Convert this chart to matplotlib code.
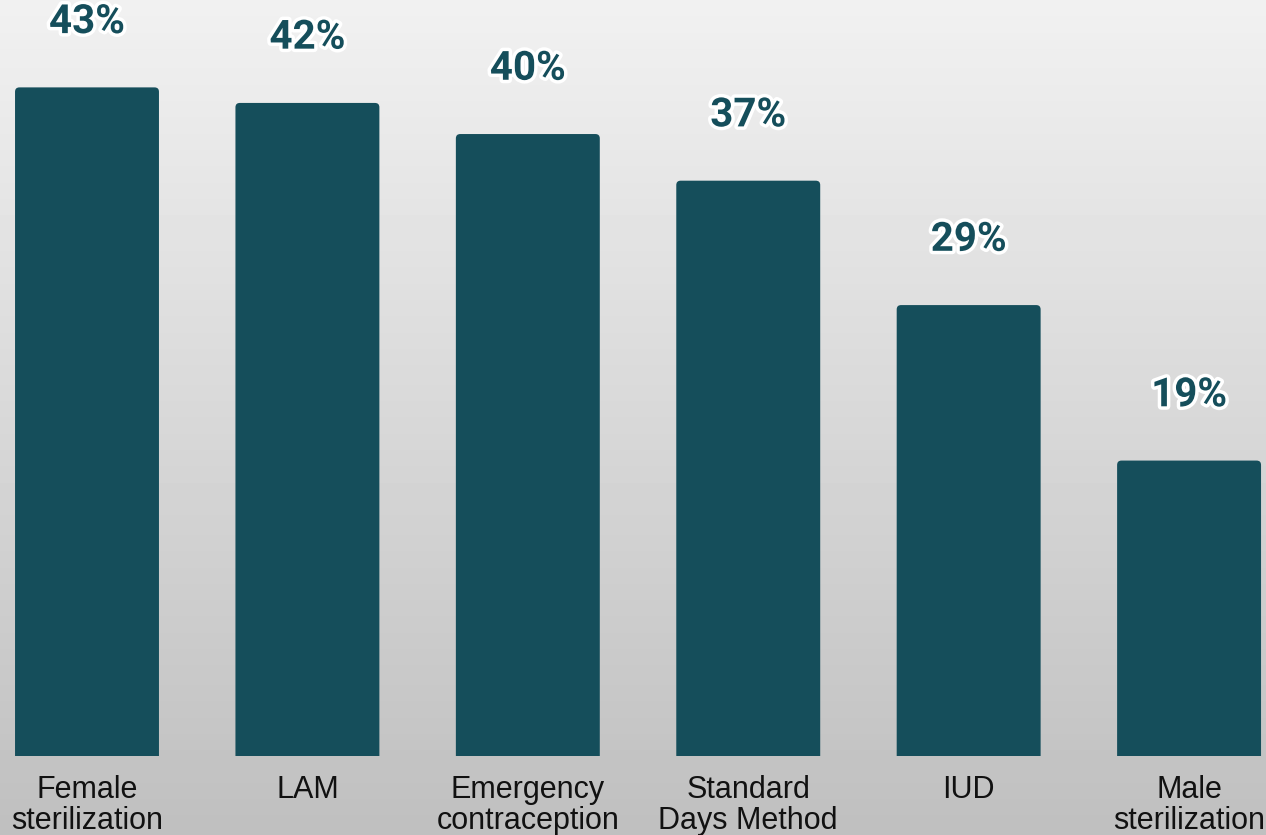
import numpy as np
import matplotlib.pyplot as plt
import matplotlib.patheffects as pe
from matplotlib.patches import FancyBboxPatch, Rectangle

methods = ["Female\nsterilization", "LAM", "Emergency\ncontraception",
           "Standard\nDays Method", "IUD", "Male\nsterilization"]
shares = [43, 42, 40, 37, 29, 19]

bar_color = "#154e5b"
bar_width = 0.653

fig = plt.figure(figsize=(12.66, 8.35), dpi=100)

# grey vertical gradient behind everything
bg = fig.add_axes([0, 0, 1, 1], zorder=0)
grad = np.linspace(0.945, 0.75, 256).reshape(-1, 1)
bg.imshow(grad, aspect="auto", cmap="gray", vmin=0, vmax=1, extent=[0, 1, 0, 1])
bg.axis("off")

ax = fig.add_axes([0, 0, 1, 1], zorder=1)
ax.patch.set_alpha(0)
ax.set_xlim(-0.3947, 5.349)
ax.set_ylim(-5.08, 48.62)
ax.axis("off")

# clip the rounded boxes at the baseline so only the top corners are round
clip = Rectangle((-1, 0), 10, 100, transform=ax.transData)
for i, v in enumerate(shares):
    box = FancyBboxPatch((i - bar_width / 2, -2), bar_width, v + 2,
                         boxstyle="round,pad=0,rounding_size=0.02",
                         mutation_aspect=14, facecolor=bar_color,
                         edgecolor="none")
    ax.add_patch(box)
    box.set_clip_path(clip)

    ax.annotate(f"{v}%", (i, v), xytext=(0, 47), textcoords="offset points",
                ha="center", va="center", fontsize=29, fontweight="bold",
                family="Roboto", color=bar_color,
                path_effects=[pe.withStroke(linewidth=5, foreground="white")])

    ax.annotate(methods[i], (i, 0), xytext=(0, -14), textcoords="offset points",
                ha="center", va="top", fontsize=22, family="Liberation Sans",
                color="#111111", linespacing=1.02)

fig.savefig("out.png", dpi=100)
